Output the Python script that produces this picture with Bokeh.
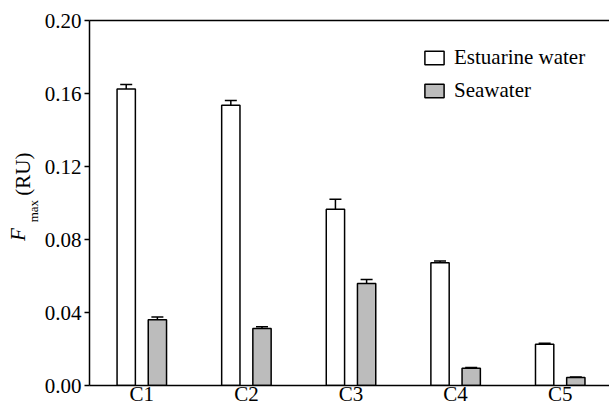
import math
from bokeh.plotting import figure
from bokeh.models import (ColumnDataSource, Whisker, TeeHead, Legend, LegendItem,
                          LinearAxis, FixedTicker, Range1d, NumeralTickFormatter)
from bokeh.embed import file_html
from bokeh.resources import INLINE

categories = ["C1", "C2", "C3", "C4", "C5"]
estuarine = [0.1625, 0.1535, 0.0966, 0.0672, 0.0226]
estuarine_err = [0.0024, 0.0026, 0.0055, 0.0010, 0.0005]
seawater = [0.0360, 0.0312, 0.0559, 0.0095, 0.0044]
seawater_err = [0.0016, 0.0010, 0.0022, 0.0003, 0.0003]
y_ticks = [0.00, 0.04, 0.08, 0.12, 0.16, 0.20]

FONT = "Liberation Serif"
FS = "21px"
NB = "\u00a0"

xpos = list(range(len(categories)))
off = 0.149
src_e = ColumnDataSource(dict(x=[v - off for v in xpos], top=estuarine,
                              upper=[a + b for a, b in zip(estuarine, estuarine_err)]))
src_s = ColumnDataSource(dict(x=[v + off for v in xpos], top=seawater,
                              upper=[a + b for a, b in zip(seawater, seawater_err)]))

p = figure(width=609, height=408, output_backend="svg", toolbar_location=None,
           x_range=Range1d(-0.5, 4.471), y_range=Range1d(0, 0.20),
           min_border_left=89, min_border_right=0, min_border_top=20,
           min_border_bottom=23)
p.outline_line_color = None
p.grid.grid_line_color = None
p.background_fill_color = "white"

r_e = p.vbar(x="x", top="top", width=0.175, source=src_e, fill_color="white",
             line_color="black", line_width=1.5)
r_s = p.vbar(x="x", top="top", width=0.175, source=src_s, fill_color="#bcbcbc",
             line_color="black", line_width=1.5)

for src in (src_e, src_s):
    w = Whisker(base="x", lower="top", upper="upper", source=src,
                line_color="black", line_width=1.5, lower_head=None,
                upper_head=TeeHead(size=12, line_color="black", line_width=1.5))
    p.add_layout(w)

# y axis
ya = p.yaxis[0]
ya.ticker = FixedTicker(ticks=y_ticks)
ya.formatter = NumeralTickFormatter(format="0.00")
ya.major_tick_out = 5
ya.major_tick_in = 0
ya.minor_tick_line_color = None
ya.major_label_standoff = 3
ya.major_label_text_font = FONT
ya.major_label_text_font_size = FS
ya.major_label_text_color = "black"
ya.axis_line_width = 1.5
ya.major_tick_line_width = 1.5

# y axis title "F_max (RU)" split over three label-only axes
def label_axis(text, size, style, standoff):
    ax = LinearAxis(ticker=FixedTicker(ticks=[]), axis_line_color=None,
                    major_tick_line_color=None, minor_tick_line_color=None,
                    major_tick_out=0, major_tick_in=0, major_label_standoff=0,
                    major_label_text_font_size="0px",
                    axis_label=text, axis_label_standoff=standoff,
                    axis_label_text_font=FONT, axis_label_text_font_size=size,
                    axis_label_text_font_style=style,
                    axis_label_text_color="black")
    p.add_layout(ax, "left")
    return ax

label_axis("max" + NB * 5, "13px", "normal", 1)
label_axis(NB * 11 + "(RU)", FS, "normal", -12)
label_axis("F" + NB * 12, FS, "italic", -22)

# x axis with category labels
xa = p.xaxis[0]
xa.ticker = FixedTicker(ticks=xpos)
xa.major_label_overrides = {i: c for i, c in zip(xpos, categories)}
xa.major_tick_line_color = None
xa.major_tick_out = 0
xa.major_tick_in = 0
xa.minor_tick_line_color = None
xa.axis_line_width = 1.5
xa.major_label_standoff = -4
xa.major_label_text_font = FONT
xa.major_label_text_font_size = FS
xa.major_label_text_color = "black"

top_axis = LinearAxis(ticker=FixedTicker(ticks=[]), major_tick_line_color=None,
                      minor_tick_line_color=None, axis_line_width=1.5,
                      major_label_text_font_size="0px")
p.add_layout(top_axis, "above")

legend = Legend(items=[LegendItem(label="Estuarine water", renderers=[r_e]),
                       LegendItem(label="Seawater", renderers=[r_s])],
                location=(333, 282), padding=0, spacing=8, glyph_width=24,
                glyph_height=17, label_standoff=8, border_line_color=None,
                background_fill_alpha=0, label_text_font=FONT,
                label_text_font_size=FS, label_text_color="black")
p.add_layout(legend)

open("out.html", "w").write(file_html(p, INLINE))
